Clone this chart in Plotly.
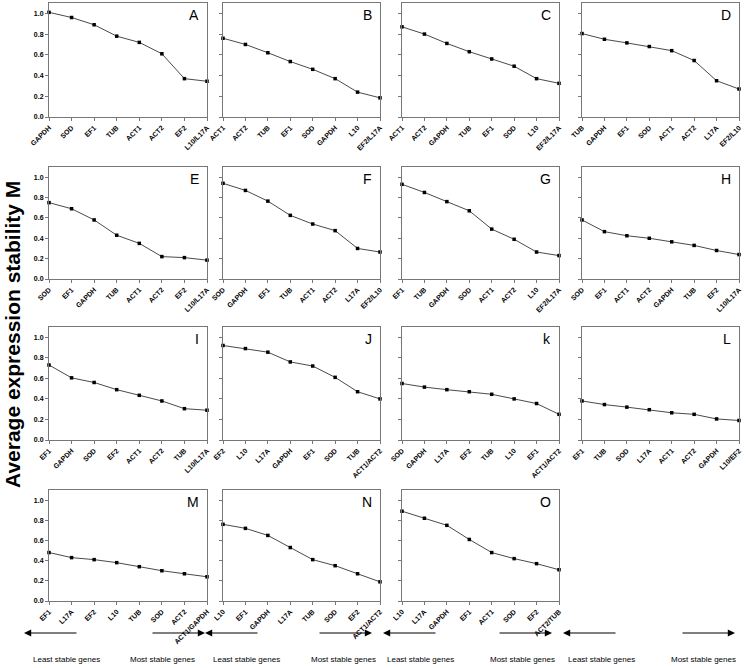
import plotly.graph_objects as go

panel_letters = ["A", "B", "C", "D", "E", "F", "G", "H", "I", "J", "k", "L", "M", "N", "O"]

genes_A = ["GAPDH", "SOD", "EF1", "TUB", "ACT1", "ACT2", "EF2", "L10/L17A"]
m_A = [1.01, 0.96, 0.89, 0.78, 0.72, 0.61, 0.37, 0.345]
genes_B = ["ACT1", "ACT2", "TUB", "EF1", "SOD", "GAPDH", "L10", "EF2/L17A"]
m_B = [0.76, 0.70, 0.62, 0.535, 0.46, 0.37, 0.24, 0.185]
genes_C = ["ACT1", "ACT2", "GAPDH", "TUB", "EF1", "SOD", "L10", "EF2/L17A"]
m_C = [0.87, 0.80, 0.71, 0.63, 0.56, 0.49, 0.37, 0.325]
genes_D = ["TUB", "GAPDH", "EF1", "SOD", "ACT1", "ACT2", "L17A", "EF2/L10"]
m_D = [0.805, 0.75, 0.715, 0.68, 0.64, 0.545, 0.35, 0.27]
genes_E = ["SOD", "EF1", "GAPDH", "TUB", "ACT1", "ACT2", "EF2", "L10/L17A"]
m_E = [0.75, 0.69, 0.58, 0.43, 0.35, 0.22, 0.21, 0.185]
genes_F = ["SOD", "GAPDH", "EF1", "TUB", "ACT1", "ACT2", "L17A", "EF2/L10"]
m_F = [0.94, 0.87, 0.765, 0.625, 0.54, 0.475, 0.30, 0.265]
genes_G = ["EF1", "TUB", "GAPDH", "SOD", "ACT1", "ACT2", "L10", "EF2/L17A"]
m_G = [0.93, 0.85, 0.76, 0.67, 0.49, 0.39, 0.265, 0.23]
genes_H = ["SOD", "EF1", "ACT1", "ACT2", "GAPDH", "TUB", "EF2", "L10/L17A"]
m_H = [0.58, 0.465, 0.425, 0.40, 0.365, 0.33, 0.28, 0.24]
genes_I = ["EF1", "GAPDH", "SOD", "EF2", "ACT1", "ACT2", "TUB", "L10/L17A"]
m_I = [0.73, 0.605, 0.56, 0.49, 0.435, 0.38, 0.305, 0.29]
genes_J = ["EF2", "L10", "L17A", "GAPDH", "EF1", "SOD", "TUB", "ACT1/ACT2"]
m_J = [0.92, 0.89, 0.855, 0.76, 0.72, 0.61, 0.47, 0.40]
genes_K = ["SOD", "GAPDH", "L17A", "EF2", "TUB", "L10", "EF1", "ACT1/ACT2"]
m_K = [0.55, 0.515, 0.49, 0.47, 0.445, 0.40, 0.355, 0.25]
genes_L = ["EF1", "TUB", "SOD", "L17A", "ACT1", "ACT2", "GAPDH", "L10/EF2"]
m_L = [0.38, 0.345, 0.32, 0.295, 0.265, 0.25, 0.205, 0.19]
genes_M = ["EF1", "L17A", "EF2", "L10", "TUB", "SOD", "ACT2", "ACT1/GAPDH"]
m_M = [0.48, 0.43, 0.41, 0.38, 0.34, 0.30, 0.27, 0.24]
genes_N = ["L10", "EF1", "GAPDH", "L17A", "TUB", "SOD", "EF2", "ACT1/ACT2"]
m_N = [0.76, 0.72, 0.65, 0.53, 0.41, 0.35, 0.27, 0.19]
genes_O = ["L10", "L17A", "GAPDH", "EF1", "ACT1", "SOD", "EF2", "ACT2/TUB"]
m_O = [0.89, 0.82, 0.75, 0.61, 0.48, 0.42, 0.37, 0.31]

y_ticks = [0.0, 0.2, 0.4, 0.6, 0.8, 1.0]
y_title = "Average expression stability M"
least_label = "Least stable genes"
most_label = "Most stable genes"

all_genes = [genes_A, genes_B, genes_C, genes_D, genes_E, genes_F, genes_G, genes_H,
             genes_I, genes_J, genes_K, genes_L, genes_M, genes_N, genes_O]
all_m = [m_A, m_B, m_C, m_D, m_E, m_F, m_G, m_H, m_I, m_J, m_K, m_L, m_M, m_N, m_O]

W, H = 746, 668
col_px = [(49, 207), (223, 380), (402, 559), (582, 739)]
row_px = [(3, 117), (167, 279), (327, 440), (490, 601)]
# bottom arrow heads / text centres per column (pixels)
left_heads = [24, 205, 383, 563]
right_heads = [205, 372, 552, 735]
least_cx = [66, 246, 420, 601]
most_cx = [162, 343, 522, 703]

fig = go.Figure()
layout = {}
font_fam = "Liberation Sans, Arial, sans-serif"
for i, (genes, m) in enumerate(zip(all_genes, all_m)):
    r, c = divmod(i, 4)
    n = i + 1
    xa = "x" if n == 1 else f"x{n}"
    ya = "y" if n == 1 else f"y{n}"
    fig.add_trace(go.Scatter(
        x=list(range(len(genes))), y=m, mode="lines+markers",
        line=dict(color="#4a4a4a", width=1),
        marker=dict(color="black", size=3.5, symbol="square"),
        xaxis=xa, yaxis=ya, showlegend=False, hoverinfo="skip", cliponaxis=False))
    x0, x1 = col_px[c]
    y0, y1 = row_px[r]
    layout[f"xaxis{n}"] = dict(
        domain=[x0 / W, x1 / W], anchor=ya, range=[0, len(genes) - 1],
        tickmode="array", tickvals=list(range(len(genes))),
        ticktext=[f"<b>{g}</b>" for g in genes],
        tickangle=-45, tickfont=dict(size=7, family=font_fam, color="black"),
        showline=True, mirror=True, linecolor="#777777", linewidth=1,
        ticks="outside", ticklen=3, tickcolor="#777777", automargin=False,
        showgrid=False, zeroline=False, fixedrange=True)
    layout[f"yaxis{n}"] = dict(
        domain=[1 - y1 / H, 1 - y0 / H], anchor=xa, range=[0, 1.1],
        tickmode="array", tickvals=y_ticks,
        ticktext=[f"<b>{v:.1f}</b>" for v in y_ticks] if c == 0 else [""] * len(y_ticks),
        tickfont=dict(size=7, family=font_fam, color="black"),
        showline=True, mirror=True, linecolor="#777777", linewidth=1,
        ticks="outside", ticklen=3, tickcolor="#777777", automargin=False,
        showgrid=False, zeroline=False, fixedrange=True)

annotations = []
for i, letter in enumerate(panel_letters):
    r, c = divmod(i, 4)
    x0, x1 = col_px[c]
    y0, y1 = row_px[r]
    annotations.append(dict(
        x=(x1 - 6) / W, y=1 - (y0 + 2) / H, xref="paper", yref="paper",
        xanchor="right", yanchor="top", text=letter, showarrow=False,
        font=dict(size=14, family=font_fam, color="black")))

annotations.append(dict(
    x=12 / W, y=1 - 335 / H, xref="paper", yref="paper", text=f"<b>{y_title}</b>",
    textangle=-90, showarrow=False, xanchor="center", yanchor="middle",
    font=dict(size=21, family=font_fam, color="black")))

arrow_y = 1 - 633 / H
text_y = 1 - 659 / H
for c in range(4):
    annotations.append(dict(x=left_heads[c] / W, y=arrow_y, xref="paper", yref="paper",
                            ax=54, ay=0, axref="pixel", ayref="pixel", text="",
                            showarrow=True, arrowhead=2, arrowsize=1.2, arrowwidth=1.2,
                            arrowcolor="black"))
    annotations.append(dict(x=right_heads[c] / W, y=arrow_y, xref="paper", yref="paper",
                            ax=-54, ay=0, axref="pixel", ayref="pixel", text="",
                            showarrow=True, arrowhead=2, arrowsize=1.2, arrowwidth=1.2,
                            arrowcolor="black"))
    annotations.append(dict(x=least_cx[c] / W, y=text_y, xref="paper", yref="paper",
                            text=least_label, showarrow=False, xanchor="center",
                            yanchor="middle",
                            font=dict(size=8, family=font_fam, color="black")))
    annotations.append(dict(x=most_cx[c] / W, y=text_y, xref="paper", yref="paper",
                            text=most_label, showarrow=False, xanchor="center",
                            yanchor="middle",
                            font=dict(size=8, family=font_fam, color="black")))

layout.update(dict(width=W, height=H, margin=dict(l=0, r=0, t=0, b=0, autoexpand=False),
                   paper_bgcolor="white", plot_bgcolor="white",
                   annotations=annotations, showlegend=False))
fig.update_layout(**layout)
fig.write_html("out.html", config={"displayModeBar": False},
               post_script="document.body.style.margin='0';document.body.style.padding='0';")
